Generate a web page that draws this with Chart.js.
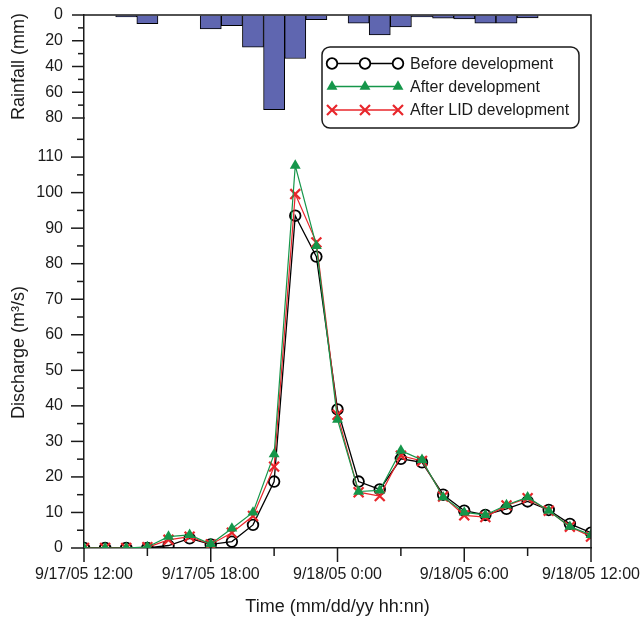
<!DOCTYPE html>
<html>
<head>
<meta charset="utf-8">
<script src="https://cdn.jsdelivr.net/npm/chart.js@4.4.0/dist/chart.umd.min.js"></script>
<style>
  html, body { margin: 0; padding: 0; background: #fff; }
  #wrap { width: 640px; height: 622px; position: relative; }
</style>
</head>
<body>
<div id="wrap"><canvas id="myChart"></canvas></div>
<script>
// hours after 9/17/05 12:00
const hours = [0, 1, 2, 3, 4, 5, 6, 7, 8, 9, 10, 11, 12, 13, 14, 15, 16, 17, 18, 19, 20, 21, 22, 23, 24];
const timeLabels = ['9/17/05 12:00', '9/17/05 18:00', '9/18/05 0:00', '9/18/05 6:00', '9/18/05 12:00'];
const timeTicks = [0, 6, 12, 18, 24];

const rainfall  = [0, 0, 1.5, 6.7, 0, 0, 10.8, 8.2, 24.9, 73.6, 33.8, 3.6, 0, 6.4, 15.4, 9.2, 1.5, 2.5, 3, 6.4, 6.4, 2.3, 0, 0, 0];
const beforeDev = [0, 0, 0, 0, 0.7, 2.7, 1, 1.8, 6.5, 18.7, 93.5, 82, 39, 18.7, 16.5, 25.1, 24.1, 15, 10.5, 9.3, 11, 13.1, 10.7, 6.8, 4.3];
const afterDev  = [0, 0, 0, 0.3, 3.2, 3.7, 1.1, 5.5, 10, 26.4, 107.6, 85, 36.1, 15.9, 16.2, 27.4, 24.8, 14.3, 10, 9.3, 12.1, 14.3, 10.5, 6, 3.7];
const afterLID  = [0, 0, 0, 0.2, 2.3, 3.2, 1, 4.3, 9, 22.9, 99.6, 86, 37.5, 15.7, 14.6, 26, 24.5, 14.5, 9.2, 8.7, 12, 14, 10.5, 6, 3.2];

const seriesNames = ['Before development', 'After development', 'After LID development'];

const INK = '#1a1a1a';
const GREEN = '#15964a';
const RED = '#e8262b';
const BAR = '#5f66b0';
const FONT = "'Liberation Sans', Arial, sans-serif";

Chart.defaults.font.family = FONT;
Chart.defaults.color = INK;

// draws one legend marker
function marker(ctx, style, x, y) {
    ctx.beginPath();
    if (style === 'circle') {
        ctx.strokeStyle = '#000';
        ctx.lineWidth = 1.8;
        ctx.arc(x, y, 5.3, 0, Math.PI * 2);
        ctx.fillStyle = '#fff';
        ctx.fill();
        ctx.stroke();
    } else if (style === 'triangle') {
        const r = 6.3;
        ctx.fillStyle = GREEN;
        ctx.moveTo(x, y - r);
        ctx.lineTo(x + r * 0.866, y + r / 2);
        ctx.lineTo(x - r * 0.866, y + r / 2);
        ctx.closePath();
        ctx.fill();
    } else {
        const d = 5;
        ctx.strokeStyle = RED;
        ctx.lineWidth = 2.2;
        ctx.moveTo(x - d, y - d); ctx.lineTo(x + d, y + d);
        ctx.moveTo(x + d, y - d); ctx.lineTo(x - d, y + d);
        ctx.stroke();
    }
}

// no automatic label-overflow padding, the layout padding decides the plot box
const noOverflow = (s) => {
    s.paddingLeft = 0; s.paddingRight = 0; s.paddingTop = 0; s.paddingBottom = 0;
};

const decor = {
    id: 'decor',
    afterDraw(chart) {
        const { ctx, chartArea: a, scales } = chart;
        ctx.save();
        ctx.strokeStyle = INK;
        ctx.lineWidth = 1.5;

        // top and right frame
        ctx.beginPath();
        ctx.moveTo(a.left, a.top);
        ctx.lineTo(a.right, a.top);
        ctx.lineTo(a.right, a.bottom);
        ctx.stroke();

        const seg = (x1, y1, x2, y2) => {
            ctx.beginPath();
            ctx.moveTo(x1, y1);
            ctx.lineTo(x2, y2);
            ctx.stroke();
        };

        // time axis ticks, major every 6 h
        for (let h = 0; h <= 24; h += 3) {
            const x = scales.x.getPixelForValue(h);
            seg(x, a.bottom, x, a.bottom + (h % 6 === 0 ? 14 : 8));
        }
        // discharge ticks
        const yq = scales.yQ;
        for (let v = 0; v <= 115; v += 5) {
            const y = yq.getPixelForValue(v);
            seg(yq.right, y, yq.right - (v % 10 === 0 ? 13 : 7), y);
        }
        // rainfall ticks
        const yr = scales.yRain;
        for (let v = 0; v <= 80; v += 10) {
            const y = yr.getPixelForValue(v);
            seg(yr.right, y, yr.right - (v % 20 === 0 ? 12 : 6), y);
        }

        // axis titles
        ctx.fillStyle = INK;
        ctx.font = '18px ' + FONT;
        ctx.textAlign = 'center';
        ctx.textBaseline = 'middle';
        const vTitle = (text, cy) => {
            ctx.save();
            ctx.translate(19, cy);
            ctx.rotate(-Math.PI / 2);
            ctx.fillText(text, 0, 0);
            ctx.restore();
        };
        vTitle('Rainfall (mm)', (yr.getPixelForValue(0) + yr.getPixelForValue(80)) / 2);
        vTitle('Discharge (m\u00b3/s)', (yq.getPixelForValue(0) + yq.getPixelForValue(110)) / 2);

        // legend
        const bx = 322, by = 47, bw = 257, bh = 81;
        ctx.beginPath();
        ctx.roundRect(bx, by, bw, bh, 8);
        ctx.fillStyle = '#fff';
        ctx.fill();
        ctx.strokeStyle = INK;
        ctx.lineWidth = 1.5;
        ctx.stroke();

        const styles = ['circle', 'triangle', 'cross'];
        const colors = ['#000', GREEN, RED];
        const rows = [63.5, 86.5, 110];
        const mx = [332, 365, 398];
        styles.forEach((st, i) => {
            const y = rows[i];
            ctx.strokeStyle = colors[i];
            ctx.lineWidth = 1.3;
            seg(mx[0], y, mx[2], y);
            mx.forEach(x => marker(ctx, st, x, y));
            ctx.fillStyle = INK;
            ctx.font = '16px ' + FONT;
            ctx.textAlign = 'left';
            ctx.fillText(seriesNames[i], 410, y + 1);
        });
        ctx.restore();
    }
};

const ctx = document.getElementById('myChart').getContext('2d');

new Chart(ctx, {
    type: 'line',
    data: {
        labels: hours,
        datasets: [
            {
                label: seriesNames[1],
                data: afterDev,
                yAxisID: 'yQ',
                order: 0,
                borderColor: GREEN,
                backgroundColor: GREEN,
                borderWidth: 1.2,
                pointStyle: 'triangle',
                pointRadius: 6.3,
                pointBorderWidth: 0,
                pointBackgroundColor: GREEN,
                tension: 0
            },
            {
                label: seriesNames[2],
                data: afterLID,
                yAxisID: 'yQ',
                order: 1,
                borderColor: RED,
                borderWidth: 1.2,
                pointStyle: 'crossRot',
                pointRadius: 7,
                pointBorderWidth: 2.2,
                pointBorderColor: RED,
                tension: 0
            },
            {
                label: seriesNames[0],
                data: beforeDev,
                yAxisID: 'yQ',
                order: 2,
                borderColor: '#000',
                borderWidth: 1.3,
                pointStyle: 'circle',
                pointRadius: 5.3,
                pointBorderWidth: 1.8,
                pointBorderColor: '#000',
                pointBackgroundColor: 'rgba(255,255,255,0)',
                tension: 0
            },
            {
                type: 'bar',
                label: 'Rainfall',
                data: rainfall,
                yAxisID: 'yRain',
                order: 3,
                backgroundColor: BAR,
                borderColor: '#000',
                borderWidth: 1,
                categoryPercentage: 1,
                barPercentage: 1
            }
        ]
    },
    options: {
        responsive: true,
        maintainAspectRatio: false,
        animation: false,
        events: [],
        layout: { autoPadding: false, padding: { top: 15, right: 49, left: 0, bottom: 0 } },
        plugins: {
            legend: { display: false },
            tooltip: { enabled: false }
        },
        scales: {
            x: {
                type: 'linear',
                min: 0,
                max: 24,
                offset: false,
                grid: { display: true, drawOnChartArea: false, drawTicks: false },
                border: { display: true, color: INK, width: 1.5 },
                afterBuildTicks: (s) => { s.ticks = timeTicks.map(v => ({ value: v })); },
                ticks: {
                    padding: 17,
                    maxRotation: 0,
                    autoSkip: false,
                    font: { size: 16 },
                    color: INK,
                    callback: (v) => timeLabels[timeTicks.indexOf(v)]
                },
                title: {
                    display: true,
                    text: 'Time (mm/dd/yy hh:nn)',
                    font: { size: 18 },
                    color: INK,
                    padding: { top: 4, bottom: 4 }
                },
                afterFit: (s) => { s.height = 74; noOverflow(s); }
            },
            yQ: {
                type: 'linear',
                position: 'left',
                stack: 'left',
                stackWeight: 430,
                min: 0,
                max: 121,
                grid: { display: true, drawOnChartArea: false, drawTicks: false },
                border: { display: true, color: INK, width: 1.5 },
                ticks: {
                    stepSize: 10,
                    padding: 21,
                    autoSkip: false,
                    font: { size: 16 },
                    color: INK,
                    callback: (v) => (v <= 110 && v % 10 === 0 ? String(v) : '')
                },
                afterFit: (s) => { s.width = 84; noOverflow(s); }
            },
            yRain: {
                type: 'linear',
                position: 'left',
                stack: 'left',
                stackWeight: 103,
                reverse: true,
                min: 0,
                max: 80,
                grid: { display: true, drawOnChartArea: false, drawTicks: false },
                border: { display: true, color: INK, width: 1.5 },
                ticks: { stepSize: 20, padding: 21, autoSkip: false, font: { size: 16 }, color: INK },
                afterFit: (s) => { s.width = 84; noOverflow(s); }
            }
        }
    },
    plugins: [decor]
});
</script>
</body>
</html>
